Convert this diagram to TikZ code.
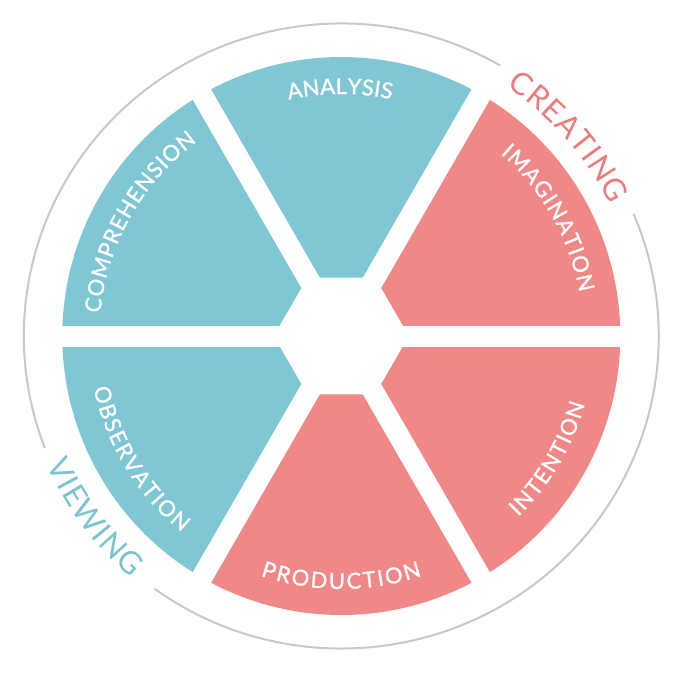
\documentclass[tikz,border=0pt]{standalone}
\usepackage{fontspec}
\setmainfont{Lato}
\usetikzlibrary{decorations.text}
\definecolor{viewblue}{RGB}{127,199,212}
\definecolor{createred}{RGB}{239,136,134}
\definecolor{ringgray}{RGB}{200,200,200}
\definecolor{wordred}{RGB}{236,124,124}
\definecolor{wordblue}{RGB}{122,196,210}
\newfontfamily\wheelfamily{Lato}[FakeBold=1]
\newfontfamily\ringfamily{Lato}
\newcommand\segfont{\wheelfamily\fontsize{22}{22}\selectfont}
\newcommand\ringfont{\ringfamily\fontsize{31}{31}\selectfont}

\begin{document}
\begin{tikzpicture}[x=1pt, y=1pt]
    \useasboundingbox (-341.3,-337) rectangle (339.7,336);
    \def\rs{279}% radius of the wheel
    \def\gap{21}% width of the white strips
    \def\hub{67.5}% corner radius of the hexagon

    \foreach \a/\col in {0/createred, 60/viewblue, 120/viewblue, 180/viewblue, 240/createred, 300/createred} {
        \fill[\col] (0,0) -- (\a:\rs) arc[start angle=\a, delta angle=60, radius=\rs] -- cycle;
    }
    \foreach \a in {0, 60, 120} {
        \draw[white, line width=\gap] (\a:290) -- (\a+180:290);
    }
    \fill[white] (0:\hub) -- (60:\hub) -- (120:\hub) -- (180:\hub) -- (240:\hub) -- (300:\hub) -- cycle;

    % outer ring, open where the two words sit
    \draw[ringgray, line width=2] (60:317.5 and 312.5) arc[start angle=60, end angle=201, x radius=317.5, y radius=312.5];
    \draw[ringgray, line width=2] (234:317.5 and 312.5) arc[start angle=234, end angle=383, x radius=317.5, y radius=312.5];

    % labels on the segments: middle angle / angle spanned / text
    \foreach \a/\w/\txt in {90.3/24.5/ANALYSIS, 150.6/48/COMPREHENSION, 29.6/38.5/IMAGINATION} {
        \path[decorate, decoration={text along path, text align=fit to path, text color=white,
            text/.expanded={|\noexpand\segfont|\txt}}]
            (\a+\w/2:242) arc[start angle=\a+\w/2, end angle=\a-\w/2, radius=242];
    }
    \foreach \a/\w/\txt in {211.4/39/OBSERVATION, 270/37.2/PRODUCTION, 329.4/30/INTENTION} {
        \path[decorate, decoration={text along path, text align=fit to path, text color=white,
            text/.expanded={|\noexpand\segfont|\txt}}]
            (\a-\w/2:253) arc[start angle=\a-\w/2, end angle=\a+\w/2, radius=253];
    }

    % the two words in the ring
    \path[decorate, decoration={text along path, text align=fit to path, text color=wordred,
        text={|\ringfont|CREATING}}]
        (56.5:299) arc[start angle=56.5, end angle=26, radius=299];
    \path[decorate, decoration={text along path, text align=fit to path, text color=wordblue,
        text={|\ringfont|VIEWING}}]
        (203.5:321) arc[start angle=203.5, end angle=229, radius=321];
\end{tikzpicture}
\end{document}
